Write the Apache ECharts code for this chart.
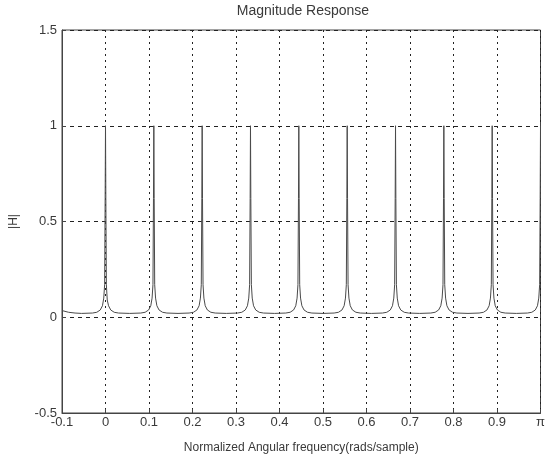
<!DOCTYPE html>
<html>
<head>
<meta charset="utf-8">
<script src="https://cdn.jsdelivr.net/npm/echarts@6/dist/echarts.min.js"></script>
<style>html,body{margin:0;padding:0;background:#fff}#c{width:548px;height:459px}</style>
</head>
<body>
<div id="c"></div>
<script>
// Normalized frequency (units of pi) and magnitude |H|
var freq = [
  -0.1, -0.085, -0.07, -0.055, -0.03, -0.02, -0.012, -0.007, -0.004, -0.002, -0.0008, 0, 0.0008, 0.002, 0.004, 0.007, 0.012, 0.02, 0.03, 0.0556,
  0.0811, 0.0911, 0.0991, 0.1041, 0.1071, 0.1091, 0.1103, 0.1111, 0.1119, 0.1131, 0.1151, 0.1181, 0.1231, 0.1311, 0.1411, 0.1667,
  0.1922, 0.2022, 0.2102, 0.2152, 0.2182, 0.2202, 0.2214, 0.2222, 0.2230, 0.2242, 0.2262, 0.2292, 0.2342, 0.2422, 0.2522, 0.2778,
  0.3033, 0.3133, 0.3213, 0.3263, 0.3293, 0.3313, 0.3325, 0.3333, 0.3341, 0.3353, 0.3373, 0.3403, 0.3453, 0.3533, 0.3633, 0.3889,
  0.4144, 0.4244, 0.4324, 0.4374, 0.4404, 0.4424, 0.4436, 0.4444, 0.4452, 0.4464, 0.4484, 0.4514, 0.4564, 0.4644, 0.4744, 0.5,
  0.5256, 0.5356, 0.5436, 0.5486, 0.5516, 0.5536, 0.5548, 0.5556, 0.5564, 0.5576, 0.5596, 0.5626, 0.5676, 0.5756, 0.5856, 0.6111,
  0.6367, 0.6467, 0.6547, 0.6597, 0.6627, 0.6647, 0.6659, 0.6667, 0.6675, 0.6687, 0.6707, 0.6737, 0.6787, 0.6867, 0.6967, 0.7222,
  0.7478, 0.7578, 0.7658, 0.7708, 0.7738, 0.7758, 0.7770, 0.7778, 0.7786, 0.7798, 0.7818, 0.7848, 0.7898, 0.7978, 0.8078, 0.8333,
  0.8589, 0.8689, 0.8769, 0.8819, 0.8849, 0.8869, 0.8881, 0.8889, 0.8897, 0.8909, 0.8929, 0.8959, 0.9009, 0.9089, 0.9189, 0.9444,
  0.97, 0.98, 0.988, 0.993, 0.996, 0.998, 0.9992, 1.0
];
var mag = [
  0.035, 0.026, 0.022, 0.02, 0.022, 0.026, 0.038, 0.06, 0.1, 0.17, 0.62, 1, 0.62, 0.17, 0.09, 0.06, 0.038, 0.026, 0.022, 0.02,
  0.022, 0.026, 0.038, 0.06, 0.1, 0.17, 0.62, 1, 0.62, 0.17, 0.1, 0.06, 0.038, 0.026, 0.022, 0.02,
  0.022, 0.026, 0.038, 0.06, 0.1, 0.17, 0.62, 1, 0.62, 0.17, 0.1, 0.06, 0.038, 0.026, 0.022, 0.02,
  0.022, 0.026, 0.038, 0.06, 0.1, 0.17, 0.62, 1, 0.62, 0.17, 0.1, 0.06, 0.038, 0.026, 0.022, 0.02,
  0.022, 0.026, 0.038, 0.06, 0.1, 0.17, 0.62, 1, 0.62, 0.17, 0.1, 0.06, 0.038, 0.026, 0.022, 0.02,
  0.022, 0.026, 0.038, 0.06, 0.1, 0.17, 0.62, 1, 0.62, 0.17, 0.1, 0.06, 0.038, 0.026, 0.022, 0.02,
  0.022, 0.026, 0.038, 0.06, 0.1, 0.17, 0.62, 1, 0.62, 0.17, 0.1, 0.06, 0.038, 0.026, 0.022, 0.02,
  0.022, 0.026, 0.038, 0.06, 0.1, 0.17, 0.62, 1, 0.62, 0.17, 0.1, 0.06, 0.038, 0.026, 0.022, 0.02,
  0.022, 0.026, 0.038, 0.06, 0.1, 0.17, 0.62, 1, 0.62, 0.17, 0.1, 0.06, 0.038, 0.026, 0.022, 0.02,
  0.022, 0.026, 0.038, 0.06, 0.1, 0.17, 0.62, 1
];
var xTicks = ['-0.1', '0', '0.1', '0.2', '0.3', '0.4', '0.5', '0.6', '0.7', '0.8', '0.9', 'π'];
var yTicks = ['-0.5', '0', '0.5', '1', '1.5'];
var titleText = 'Magnitude Response';
var xName = 'Normalized Angular frequency(rads/sample)';
var yName = '|H|';

var data = freq.map(function (f, i) { return [f, mag[i]]; });
var font = 'Liberation Sans, Arial, sans-serif';
var txt = '#3a3a3a';

var chart = echarts.init(document.getElementById('c'), null, {renderer: 'canvas'});
chart.setOption({
  animation: false,
  backgroundColor: '#fff',
  title: {
    text: titleText, left: 303, top: 4, padding: 0, textAlign: 'center',
    textStyle: {fontFamily: font, fontSize: 14, fontWeight: 'normal', color: txt}
  },
  grid: {left: 60, right: 1, top: 30, bottom: 45, show: true, borderColor: '#444', borderWidth: 1, containLabel: false},
  xAxis: {
    type: 'value', min: -0.1, max: 1, interval: 0.1,
    name: xName, nameLocation: 'middle', nameGap: 29,
    nameTextStyle: {fontFamily: font, fontSize: 12, color: txt},
    axisLine: {show: true, onZero: false, lineStyle: {color: '#444', width: 1}},
    axisTick: {show: true, inside: true, length: 4, lineStyle: {color: '#444'}},
    axisLabel: {
      margin: 3, fontFamily: font, fontSize: 13, color: txt,
      formatter: function (v) { var i = Math.round((v + 0.1) * 10); return xTicks[i] !== undefined ? xTicks[i] : ''; }
    },
    splitLine: {show: true, lineStyle: {color: '#222', type: [2, 4], width: 1}}
  },
  yAxis: {
    type: 'value', min: -0.5, max: 1.5, interval: 0.5,
    name: yName, nameLocation: 'middle', nameGap: 42, nameRotate: 90,
    nameTextStyle: {fontFamily: font, fontSize: 12, color: txt},
    axisLine: {show: true, onZero: false, lineStyle: {color: '#444', width: 1}},
    axisTick: {show: true, inside: true, length: 4, lineStyle: {color: '#444'}},
    axisLabel: {
      margin: 5, fontFamily: font, fontSize: 13, color: txt,
      formatter: function (v) { var i = Math.round((v + 0.5) * 2); return yTicks[i] !== undefined ? yTicks[i] : ''; }
    },
    splitLine: {show: true, lineStyle: {color: '#222', type: [4, 4], width: 1}}
  },
  series: [{
    type: 'line', data: data, showSymbol: false, symbol: 'none',
    lineStyle: {color: '#4a4a4a', width: 1}, smooth: false, clip: true
  }]
});
</script>
</body>
</html>
